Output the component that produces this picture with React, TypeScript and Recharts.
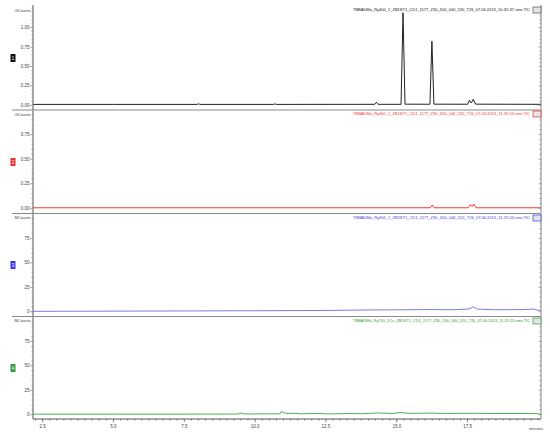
import React from "react";
import { LineChart, Line, XAxis, YAxis } from "recharts";

// retention time axis (minutes)
const X_DOMAIN = [2.16, 20.09];
const X_MAJOR = [2.5, 5, 7.5, 10, 12.5, 15, 17.5];
const X_LABELS = ["2.5", "5.0", "7.5", "10.0", "12.5", "15.0", "17.5"];

// trace 1 (GCounts)
const P1_TIME = [2.16, 5.0, 7.95, 8.0, 8.05, 10.65, 10.7, 10.75, 14.22, 14.28, 14.34, 15.15, 15.22, 15.29, 16.17, 16.24, 16.31, 17.5, 17.56, 17.63, 17.7, 17.78, 20.09];
const P1_VALUE = [0.012, 0.012, 0.012, 0.02, 0.012, 0.012, 0.019, 0.012, 0.013, 0.04, 0.013, 0.013, 1.19, 0.015, 0.014, 0.825, 0.015, 0.014, 0.066, 0.03, 0.078, 0.015, 0.013];
const P1_MAJOR = [0, 0.25, 0.5, 0.75, 1.0];
const P1_LABELS = ["0.00", "0.25", "0.50", "0.75", "1.00"];

// trace 2 (GCounts)
const P2_TIME = [2.16, 16.18, 16.25, 16.32, 17.52, 17.6, 17.66, 17.72, 17.8, 20.09];
const P2_VALUE = [0.006, 0.006, 0.034, 0.006, 0.006, 0.038, 0.018, 0.044, 0.006, 0.006];
const P2_MAJOR = [0, 0.25, 0.5, 0.75];
const P2_LABELS = ["0.00", "0.25", "0.50", "0.75"];

// trace 3 (MCounts)
const P3_TIME = [2.16, 5.0, 7.5, 10.0, 12.5, 14.0, 15.2, 16.2, 17.0, 17.55, 17.7, 17.85, 18.5, 19.5, 19.8, 20.09];
const P3_VALUE = [0.4, 0.6, 0.8, 1.0, 1.3, 1.8, 2.0, 2.2, 2.0, 2.8, 5.0, 2.6, 2.0, 2.2, 2.8, 1.0];
const P3_MAJOR = [0, 25, 50, 75];
const P3_LABELS = ["0", "25", "50", "75"];

// trace 4 (MCounts)
const P4_TIME = [2.16, 5.0, 7.5, 9.4, 9.5, 9.6, 10.0, 10.88, 10.94, 11.0, 11.05, 11.12, 11.34, 11.6, 12.15, 12.6, 13.35, 13.8, 14.3, 14.8, 15.17, 15.4, 16.28, 16.6, 17.83, 18.5, 19.9, 20.09];
const P4_VALUE = [0.6, 0.6, 0.6, 0.7, 1.6, 0.8, 0.8, 0.9, 3.6, 1.4, 2.3, 1.1, 1.5, 0.9, 1.3, 0.8, 1.2, 1.0, 1.8, 1.2, 2.2, 1.4, 1.6, 1.3, 1.4, 1.2, 1.3, 0.4];
const P4_MAJOR = [0, 25, 50, 75];
const P4_LABELS = ["0", "25", "50", "75"];

const TITLES = [
  "TBBADMa_Ry400_1_ZB1ST1_CD1_1177_Z30_Z00_040_520_T26_07.06.2013_10-32-37.sms TIC",
  "TBBADMa_Ry400_1_ZB1ST1_CD1_1177_Z30_Z00_040_520_T26_07.06.2013_11-09-53.sms TIC",
  "TBBADMa_Ry400_1_ZB1ST1_CD1_1177_Z30_Z00_040_520_T26_07.06.2013_11-29-53.sms TIC",
  "TBBADMa_Ry750_1Cu_ZB1ST1_CD1_1177_Z30_Z00_040_520_T26_07.06.2013_11-29-53.sms TIC",
];
const UNITS = ["GCounts", "GCounts", "MCounts", "MCounts"];
const BADGES = ["1", "2", "3", "4"];

const FONT = "'Liberation Sans', Arial, sans-serif";
const AXIS = "#808080";

function steps(from: number, to: number, step: number) {
  const out: number[] = [];
  for (let v = from; v <= to + 1e-9; v += step) out.push(Math.round(v * 1000) / 1000);
  return out;
}

const X_MINOR = steps(2.25, 20, 0.25);

const toRows = (t: number[], v: number[]) => t.map((x, i) => ({ t: x, v: v[i] }));

function labelFor(value: number, major: number[], labels: string[]) {
  const i = major.findIndex((m) => Math.abs(m - value) < 1e-6);
  return i >= 0 ? labels[i] : null;
}

type PanelProps = {
  top: number;
  plotHeight: number;
  rows: { t: number; v: number }[];
  color: string;
  domain: [number, number];
  major: number[];
  labels: string[];
  minor: number[];
  showX?: boolean;
};

function Panel({ top, plotHeight, rows, color, domain, major, labels, minor, showX }: PanelProps) {
  const leftTick = (props: any) => {
    const { x, y, payload } = props;
    const lab = labelFor(payload.value, major, labels);
    return (
      <g>
        <line x1={x - (lab ? 3 : 1.5)} x2={x} y1={y} y2={y} stroke={AXIS} strokeWidth={0.7} />
        {lab ? (
          <text x={x - 3.5} y={y} dy={1.5} textAnchor="end" fontSize={4.5} fill="#444" fontFamily={FONT}>
            {lab}
          </text>
        ) : null}
      </g>
    );
  };
  const rightTick = (props: any) => {
    const { x, y, payload } = props;
    const lab = labelFor(payload.value, major, labels);
    return <line x1={x - (lab ? 2.5 : 1.5)} x2={x} y1={y} y2={y} stroke={AXIS} strokeWidth={0.7} />;
  };
  const bottomTick = (props: any) => {
    const { x, y, payload } = props;
    const lab = labelFor(payload.value, X_MAJOR, X_LABELS);
    return (
      <g>
        <line x1={x} x2={x} y1={y} y2={y + (lab ? 3 : 1.5)} stroke="#555" strokeWidth={0.8} />
        {lab ? (
          <text x={x} y={y + 9} textAnchor="middle" fontSize={4.5} fill="#444" fontFamily={FONT}>
            {lab}
          </text>
        ) : null}
      </g>
    );
  };
  const xHeight = showX ? 20 : 0;
  return (
    <div style={{ position: "absolute", left: 0, top }}>
      <LineChart width={550} height={plotHeight + xHeight} data={rows} margin={{ top: 0, right: 0, left: 0, bottom: 0 }}>
        <XAxis
          dataKey="t"
          type="number"
          domain={X_DOMAIN}
          allowDataOverflow
          hide={!showX}
          height={xHeight}
          ticks={X_MINOR}
          interval={0}
          tickSize={0}
          tickMargin={0}
          tick={bottomTick}
          stroke="#555"
        />
        <YAxis
          yAxisId="l"
          width={33}
          type="number"
          domain={domain}
          allowDataOverflow
          ticks={minor}
          interval={0}
          tickSize={0}
          tickMargin={0}
          tick={leftTick}
          stroke="#555"
        />
        <YAxis
          yAxisId="r"
          orientation="right"
          width={9}
          type="number"
          domain={domain}
          allowDataOverflow
          ticks={minor}
          interval={0}
          tickSize={0}
          tickMargin={0}
          tick={rightTick}
          stroke={AXIS}
        />
        <Line yAxisId="l" type="linear" dataKey="v" stroke={color} strokeWidth={1} dot={false} isAnimationActive={false} />
      </LineChart>
    </div>
  );
}

const PANEL_COLORS = ["#222222", "#ff3030", "#7c7ce2", "#4cb050"];
const TITLE_COLORS = ["#111111", "#f03030", "#3a3ad8", "#2a9a2a"];
const BADGE_COLORS = ["#111111", "#e83030", "#3838e0", "#2ea043"];
const TITLE_Y = [10, 114, 218, 321];
const BADGE_Y = [54, 158, 261, 364];
const UNIT_Y = [11, 115, 218, 321];

export default function App() {
  return (
    <div style={{ position: "absolute", left: 0, top: 0, width: 550, height: 438, background: "#fff", overflow: "hidden" }}>
      <Panel top={5} plotHeight={105} rows={toRows(P1_TIME, P1_VALUE)} color={PANEL_COLORS[0]} domain={[-0.06, 1.29]} major={P1_MAJOR} labels={P1_LABELS} minor={steps(0, 1.25, 0.05)} />
      <Panel top={110} plotHeight={103} rows={toRows(P2_TIME, P2_VALUE)} color={PANEL_COLORS[1]} domain={[-0.047, 1.0]} major={P2_MAJOR} labels={P2_LABELS} minor={steps(0, 0.95, 0.05)} />
      <Panel top={214} plotHeight={103} rows={toRows(P3_TIME, P3_VALUE)} color={PANEL_COLORS[2]} domain={[-5.4, 100]} major={P3_MAJOR} labels={P3_LABELS} minor={steps(0, 95, 5)} />
      <Panel top={317} plotHeight={102} rows={toRows(P4_TIME, P4_VALUE)} color={PANEL_COLORS[3]} domain={[-4.4, 100]} major={P4_MAJOR} labels={P4_LABELS} minor={steps(0, 95, 5)} showX />
      <svg width={550} height={438} style={{ position: "absolute", left: 0, top: 0, pointerEvents: "none" }}>
        {[110, 213.5, 316.5].map((y) => (
          <line key={y} x1={12} x2={541} y1={y} y2={y} stroke="#8a8a8a" strokeWidth={1} />
        ))}
        {TITLES.map((t, i) => (
          <g key={t + i}>
            <text x={530} y={TITLE_Y[i]} dy={1.4} textAnchor="end" fontSize={4} fill={TITLE_COLORS[i]} fontFamily={FONT} textLength={177} lengthAdjust="spacingAndGlyphs">
              {t}
            </text>
            <rect x={533} y={TITLE_Y[i] - 3} width={8} height={6} fill="#e4e4e4" stroke={i === 0 ? "#555" : BADGE_COLORS[i]} strokeWidth={0.7} />
            <text x={30.5} y={UNIT_Y[i]} dy={1.4} textAnchor="end" fontSize={4} fill="#444" fontFamily={FONT}>
              {UNITS[i]}
            </text>
            <rect x={10.5} y={BADGE_Y[i]} width={5} height={8} fill={BADGE_COLORS[i]} />
            <text x={13} y={BADGE_Y[i] + 4} dy={1.6} textAnchor="middle" fontSize={4.5} fill="#fff" fontFamily={FONT}>
              {BADGES[i]}
            </text>
          </g>
        ))}
        <text x={543} y={430} textAnchor="end" fontSize={4} fill="#444" fontFamily={FONT}>
          minutes
        </text>
      </svg>
    </div>
  );
}
